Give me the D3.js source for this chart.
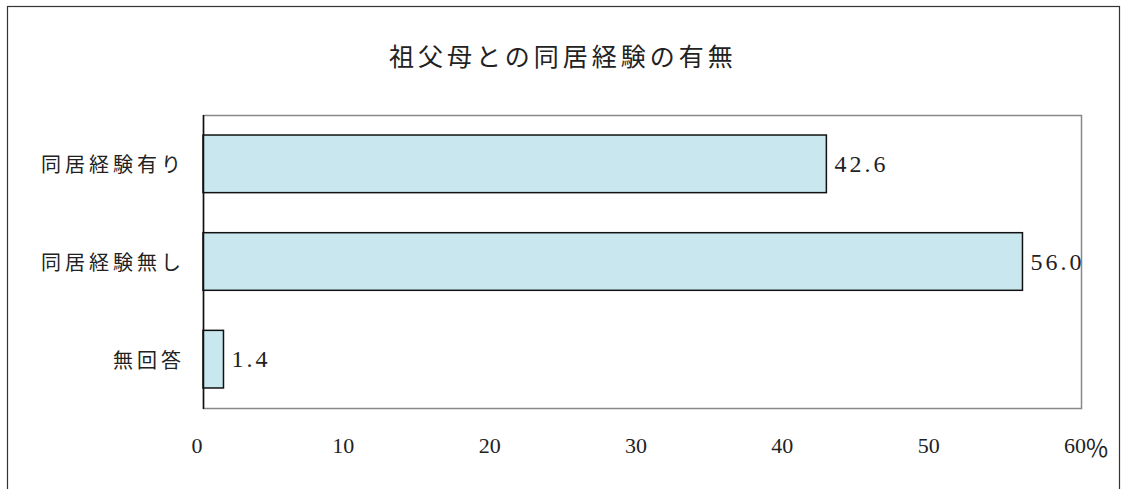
<!DOCTYPE html>
<html>
<head>
<meta charset="utf-8">
<script src="https://cdn.jsdelivr.net/npm/d3@7"></script>
<style>
  html, body { margin: 0; padding: 0; background: #fff; }
  svg { display: block; }
</style>
</head>
<body>
<div id="chart"></div>
<script>
const width = 1121;
const height = 489;

// data
const title = "祖父母との同居経験の有無";
const categories = ["同居経験有り", "同居経験無し", "無回答"];
const values = [42.6, 56.0, 1.4];
const xTicks = [0, 10, 20, 30, 40, 50, 60];
const unitLabel = "％";

const jpFont = '"Noto Sans CJK JP", sans-serif';
const numFont = '"Liberation Serif", serif';

const plot = { left: 203, right: 1081, top: 115, bottom: 408 };

const svg = d3.select("#chart")
    .append("svg")
    .attr("width", width)
    .attr("height", height);

// outer frame
svg.append("rect")
    .attr("x", 7.5)
    .attr("y", 6.5)
    .attr("width", 1112)
    .attr("height", 520)
    .attr("fill", "none")
    .attr("stroke", "#333")
    .attr("stroke-width", 1.2);

svg.append("text")
    .attr("x", 563)
    .attr("y", 55)
    .attr("text-anchor", "middle")
    .attr("dominant-baseline", "central")
    .style("font-family", jpFont)
    .style("font-size", "25px")
    .style("letter-spacing", "4px")
    .style("fill", "#222")
    .text(title);

const x = d3.scaleLinear()
    .domain([0, 60])
    .range([plot.left, plot.right]);

const y = d3.scaleBand()
    .domain(categories)
    .range([plot.top, plot.bottom])
    .paddingInner(0.41)
    .paddingOuter(0.205);

// plot frame
svg.append("rect")
    .attr("x", plot.left + 0.5)
    .attr("y", plot.top + 0.5)
    .attr("width", plot.right - plot.left)
    .attr("height", plot.bottom - plot.top)
    .attr("fill", "#fff")
    .attr("stroke", "#888")
    .attr("stroke-width", 1.5);

const rows = categories.map((c, i) => ({ name: c, value: values[i] }));

svg.selectAll(".bar")
    .data(rows)
    .enter()
    .append("rect")
    .attr("class", "bar")
    .attr("x", x(0))
    .attr("y", d => y(d.name))
    .attr("width", d => x(d.value) - x(0))
    .attr("height", y.bandwidth())
    .attr("fill", "#c8e7ee")
    .attr("stroke", "#111")
    .attr("stroke-width", 1.5);

// left axis line
svg.append("line")
    .attr("x1", plot.left + 0.5)
    .attr("x2", plot.left + 0.5)
    .attr("y1", plot.top)
    .attr("y2", plot.bottom + 1)
    .attr("stroke", "#111")
    .attr("stroke-width", 1.5);

// value labels
svg.selectAll(".val")
    .data(rows)
    .enter()
    .append("text")
    .attr("class", "val")
    .attr("x", d => x(d.value) + 8)
    .attr("y", d => y(d.name) + y.bandwidth() / 2)
    .attr("dominant-baseline", "central")
    .style("font-family", numFont)
    .style("font-size", "24px")
    .style("letter-spacing", "3px")
    .style("fill", "#222")
    .text(d => d3.format(".1f")(d.value));

// category labels
svg.selectAll(".cat")
    .data(categories)
    .enter()
    .append("text")
    .attr("class", "cat")
    .attr("x", plot.left - 18)
    .attr("y", d => y(d) + y.bandwidth() / 2)
    .attr("text-anchor", "end")
    .attr("dominant-baseline", "central")
    .style("font-family", jpFont)
    .style("font-size", "20px")
    .style("letter-spacing", "4px")
    .style("fill", "#222")
    .text(d => d);

// x axis tick labels
svg.selectAll(".tick-label")
    .data(xTicks)
    .enter()
    .append("text")
    .attr("class", "tick-label")
    .attr("x", d => x(d) - 6)
    .attr("y", 445)
    .attr("text-anchor", "middle")
    .attr("dominant-baseline", "central")
    .style("font-family", numFont)
    .style("font-size", "22px")
    .style("fill", "#222")
    .text(d => d);

svg.append("text")
    .attr("x", x(60) + 4)
    .attr("y", 446)
    .attr("dominant-baseline", "central")
    .style("font-family", jpFont)
    .style("font-size", "24px")
    .style("fill", "#222")
    .text(unitLabel);
</script>
</body>
</html>
